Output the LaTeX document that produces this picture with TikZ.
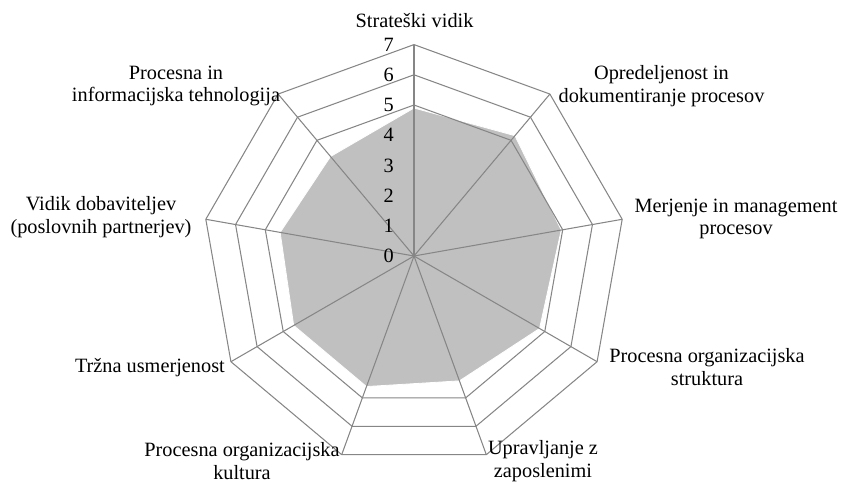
\documentclass[tikz,border=0pt]{standalone}
\usepackage{fontspec}
\setmainfont{Liberation Serif}
\definecolor{gridgray}{HTML}{868686}
\definecolor{seriesfill}{HTML}{C0C0C0}
\begin{document}
\begin{tikzpicture}[x=1pt,y=1pt,
  gridline/.style={draw=gridgray, line width=1.05pt, line join=miter},
  axisline/.style={draw=gridgray, line width=1.05pt},
  datafill/.style={fill=seriesfill, draw=white, line width=0.8pt},
  catlabel/.style={font=\fontsize{20.3}{22.6}\selectfont, align=center, inner sep=0pt},
  ticklabel/.style={font=\fontsize{20.3}{22.6}\selectfont, anchor=east, inner sep=0pt}]
\useasboundingbox (0,0) rectangle (842,-484);
\def\unit{30.2}
\begin{scope}[shift={(414,-256)}]
  \coordinate (O) at (0,0);
  % axis end points, clockwise from the top
  \foreach \i in {0,...,8}
    \coordinate (a\i) at (90-40*\i:7*\unit);
  % filled data series
  \path[datafill] (90:4.9*\unit)
    \foreach \v [count=\i from 0] in {4.9,5.2,4.95,4.8,4.4,4.6,4.6,4.5,4.3}
      { -- (90-40*\i:\v*\unit) } -- cycle;
  % ring gridlines at 5, 6 and 7
  \foreach \r in {5,6,7}
    \draw[gridline] (90:\r*\unit)
      \foreach \i in {1,...,8} { -- (90-40*\i:\r*\unit) } -- cycle;
  % spokes
  \foreach \i in {0,...,8}
    \draw[axisline] (O) -- (a\i);
  % value scale on the vertical axis
  \foreach \k in {0,...,7}
    \node[ticklabel] (t\k) at (-20,\k*\unit) {\k};
\end{scope}
% category labels
\node[catlabel, anchor=base] (c0) at (414.5,-28) {Strateški vidik};
\node[catlabel] (c1) at (661.5,-86) {Opredeljenost in\\dokumentiranje procesov};
\node[catlabel] (c2) at (736,-219) {Merjenje in management\\procesov};
\node[catlabel] (c3) at (707,-367) {Procesna organizacijska\\struktura};
\node[catlabel] (c4) at (543,-461) {Upravljanje z\\zaposlenimi};
\node[catlabel] (c5) at (242,-461) {Procesna organizacijska\\kultura};
\node[catlabel, anchor=base east] (c6) at (225,-372) {Tržna usmerjenost};
\node[catlabel] (c7) at (101,-217) {Vidik dobaviteljev\\(poslovnih partnerjev)};
\node[catlabel] (c8) at (176,-86) {Procesna in\\informacijska tehnologija};
\end{tikzpicture}
\end{document}
